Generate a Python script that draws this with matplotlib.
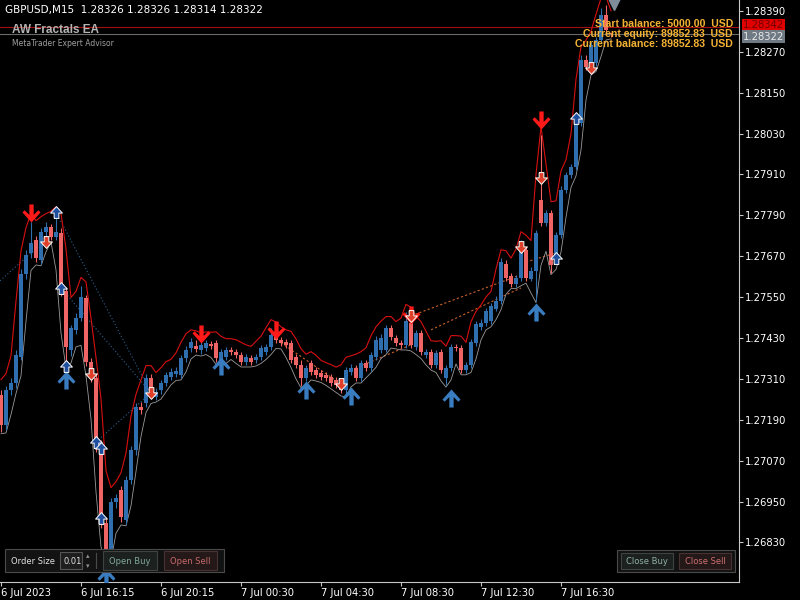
import numpy as np
import pandas as pd
import matplotlib
matplotlib.use('Agg')
import matplotlib.pyplot as plt
from matplotlib.path import Path
from matplotlib.patches import Rectangle

# GBPUSD M15 bars
opens = [1.27263, 1.27175, 1.27278, 1.27298, 1.27375, 1.27619, 1.27680, 1.27718, 1.27659, 1.27741,
         1.27756, 1.27727, 1.27738, 1.27569, 1.27395, 1.27454, 1.27490, 1.27546, 1.27360, 1.27313,
         1.27116, 1.26888, 1.26808, 1.26949, 1.26984, 1.26896, 1.27014, 1.27102, 1.27228, 1.27240,
         1.27313, 1.27257, 1.27278, 1.27298, 1.27316, 1.27325, 1.27322, 1.27372, 1.27401, 1.27407,
         1.27395, 1.27401, 1.27413, 1.27416, 1.27366, 1.27375, 1.27395, 1.27389, 1.27380, 1.27360,
         1.27372, 1.27366, 1.27375, 1.27389, 1.27404, 1.27433, 1.27424, 1.27419, 1.27416, 1.27375,
         1.27351, 1.27313, 1.27357, 1.27336, 1.27328, 1.27322, 1.27316, 1.27307, 1.27301, 1.27278,
         1.27331, 1.27342, 1.27313, 1.27357, 1.27342, 1.27375, 1.27395, 1.27395, 1.27460, 1.27430,
         1.27416, 1.27410, 1.27475, 1.27404, 1.27445, 1.27380, 1.27389, 1.27351, 1.27389, 1.27313,
         1.27342, 1.27404, 1.27401, 1.27336, 1.27351, 1.27416, 1.27463, 1.27475, 1.27481, 1.27516,
         1.27540, 1.27648, 1.27613, 1.27590, 1.27607, 1.27689, 1.27604, 1.27628, 1.27835, 1.27768,
         1.27797, 1.27674, 1.27733, 1.27865, 1.27909, 1.27932, 1.28061, 1.28246, 1.28217, 1.28237,
         1.28305, 1.28378, 1.28326]
highs = [1.27278, 1.27290, 1.27313, 1.27395, 1.27634, 1.27689, 1.27771, 1.27730, 1.27753, 1.27771,
         1.27765, 1.27791, 1.27753, 1.27581, 1.27469, 1.27502, 1.27584, 1.27557, 1.27372, 1.27325,
         1.27131, 1.26902, 1.26961, 1.26973, 1.26996, 1.27025, 1.27113, 1.27240, 1.27242, 1.27325,
         1.27325, 1.27284, 1.27307, 1.27331, 1.27342, 1.27345, 1.27380, 1.27407, 1.27430, 1.27424,
         1.27419, 1.27424, 1.27422, 1.27424, 1.27398, 1.27404, 1.27404, 1.27398, 1.27389, 1.27383,
         1.27380, 1.27383, 1.27410, 1.27413, 1.27460, 1.27445, 1.27433, 1.27427, 1.27424, 1.27383,
         1.27366, 1.27351, 1.27366, 1.27345, 1.27336, 1.27331, 1.27325, 1.27316, 1.27310, 1.27345,
         1.27354, 1.27351, 1.27366, 1.27366, 1.27389, 1.27436, 1.27442, 1.27469, 1.27469, 1.27439,
         1.27424, 1.27505, 1.27487, 1.27454, 1.27454, 1.27398, 1.27398, 1.27395, 1.27398, 1.27351,
         1.27413, 1.27413, 1.27410, 1.27360, 1.27427, 1.27481, 1.27487, 1.27519, 1.27534, 1.27552,
         1.27665, 1.27659, 1.27622, 1.27616, 1.27718, 1.27697, 1.27637, 1.27747, 1.28026, 1.27806,
         1.27806, 1.27741, 1.27876, 1.27917, 1.27941, 1.28070, 1.28261, 1.28261, 1.28299, 1.28313,
         1.28399, 1.28407, 1.28326]
lows = [1.27155, 1.27160, 1.27263, 1.27284, 1.27366, 1.27604, 1.27665, 1.27653, 1.27648, 1.27730,
        1.27718, 1.27718, 1.27554, 1.27348, 1.27378, 1.27442, 1.27481, 1.27348, 1.27301, 1.27096,
        1.26873, 1.26773, 1.26794, 1.26932, 1.26890, 1.26885, 1.27002, 1.27087, 1.27207, 1.27228,
        1.27260, 1.27248, 1.27266, 1.27290, 1.27307, 1.27316, 1.27313, 1.27360, 1.27389, 1.27389,
        1.27383, 1.27392, 1.27398, 1.27360, 1.27357, 1.27366, 1.27380, 1.27372, 1.27351, 1.27351,
        1.27351, 1.27357, 1.27366, 1.27380, 1.27395, 1.27416, 1.27407, 1.27401, 1.27357, 1.27342,
        1.27290, 1.27304, 1.27322, 1.27313, 1.27307, 1.27304, 1.27290, 1.27284, 1.27269, 1.27263,
        1.27322, 1.27304, 1.27304, 1.27334, 1.27334, 1.27366, 1.27386, 1.27389, 1.27424, 1.27407,
        1.27401, 1.27401, 1.27401, 1.27395, 1.27380, 1.27372, 1.27342, 1.27342, 1.27328, 1.27292,
        1.27334, 1.27392, 1.27328, 1.27328, 1.27342, 1.27407, 1.27454, 1.27466, 1.27472, 1.27508,
        1.27531, 1.27598, 1.27581, 1.27581, 1.27598, 1.27598, 1.27596, 1.27540, 1.27759, 1.27759,
        1.27622, 1.27653, 1.27724, 1.27856, 1.27900, 1.27923, 1.28052, 1.28217, 1.28208, 1.28228,
        1.28296, 1.28325, 1.28314]
closes = [1.27175, 1.27278, 1.27298, 1.27380, 1.27619, 1.27674, 1.27709, 1.27665, 1.27741, 1.27756,
          1.27727, 1.27741, 1.27569, 1.27404, 1.27460, 1.27490, 1.27549, 1.27360, 1.27316, 1.27116,
          1.26888, 1.26808, 1.26949, 1.26961, 1.26905, 1.27014, 1.27102, 1.27228, 1.27219, 1.27313,
          1.27272, 1.27272, 1.27298, 1.27322, 1.27331, 1.27334, 1.27372, 1.27395, 1.27419, 1.27398,
          1.27410, 1.27416, 1.27407, 1.27372, 1.27389, 1.27395, 1.27389, 1.27380, 1.27360, 1.27375,
          1.27360, 1.27375, 1.27401, 1.27404, 1.27439, 1.27424, 1.27416, 1.27410, 1.27366, 1.27351,
          1.27313, 1.27342, 1.27331, 1.27322, 1.27316, 1.27313, 1.27298, 1.27292, 1.27278, 1.27336,
          1.27342, 1.27313, 1.27357, 1.27342, 1.27380, 1.27424, 1.27430, 1.27460, 1.27433, 1.27416,
          1.27410, 1.27481, 1.27410, 1.27445, 1.27389, 1.27389, 1.27351, 1.27386, 1.27336, 1.27342,
          1.27404, 1.27401, 1.27336, 1.27351, 1.27419, 1.27472, 1.27475, 1.27510, 1.27525, 1.27540,
          1.27653, 1.27607, 1.27590, 1.27607, 1.27689, 1.27607, 1.27628, 1.27738, 1.27768, 1.27797,
          1.27643, 1.27733, 1.27865, 1.27909, 1.27932, 1.28061, 1.28246, 1.28225, 1.28290, 1.28305,
          1.28378, 1.28334, 1.28322]

time_tick_bars = [0, 16, 32, 48, 64, 80, 96, 112]
time_tick_labels = ['6 Jul 2023', '6 Jul 16:15', '6 Jul 20:15', '7 Jul 00:30',
                    '7 Jul 04:30', '7 Jul 08:30', '7 Jul 12:30', '7 Jul 16:30']
price_ticks = [1.28390, 1.28270, 1.28150, 1.28030, 1.27910, 1.27790, 1.27670,
               1.27550, 1.27430, 1.27310, 1.27190, 1.27070, 1.26950, 1.26830]

ask = 1.28342
bid = 1.28322

# fractal arrows
fractal_dn_bars = [6, 40, 55, 82, 108]
fractal_dn_prices = [1.27797, 1.27442, 1.27454, 1.27499, 1.28070]
fractal_up_bars = [13, 21, 44, 61, 70, 90, 107]
fractal_up_prices = [1.27307, 1.26729, 1.27348, 1.27278, 1.27260, 1.27254, 1.27505]

# trade arrows
sell_bars = [9, 18, 30, 68, 82, 104, 108, 118]
sell_prices = [1.27712, 1.27325, 1.27269, 1.27295, 1.27495, 1.27697, 1.27900, 1.28222]
buy_bars = [11, 12, 13, 19, 20, 20, 111, 115]
buy_prices = [1.27800, 1.27577, 1.27348, 1.27125, 1.27108, 1.26902, 1.27665, 1.28076]

# dotted trade links (bar0, price0, bar1, price1)
buy_links = [(-0.2, 1.27598, 7.8, 1.27703), (11, 1.27800, 30, 1.27269),
             (12, 1.27577, 30, 1.27269), (19, 1.27125, 30, 1.27269)]
sell_links = [(56, 1.27416, 68, 1.27295), (70, 1.27336, 82, 1.27410),
              (82, 1.27495, 104, 1.27616), (86, 1.27454, 104, 1.27577),
              (105, 1.27653, 111, 1.27680)]

bull = '#2f6fb0'
bear = '#ef6464'

df = pd.DataFrame({'o': opens, 'h': highs, 'l': lows, 'c': closes})
x = np.arange(len(df))

fig = plt.figure(figsize=(8, 6), dpi=100, facecolor='black')
ax = fig.add_axes([0, 18 / 600, 739 / 800, 582 / 600])
ax.set_facecolor('black')
ax.set_xlim(-0.2, 147.6)
ax.set_ylim(1.26714, 1.28422)

# ask / bid lines
ax.axhline(ask, color='#a01010', lw=0.8, zorder=1)
ax.axhline(bid, color='#6a6a6a', lw=0.8, zorder=1)

# dotted trade links
for b0, p0, b1, p1 in buy_links:
    ax.plot([b0, b1], [p0, p1], ls=(0, (1, 2)), color='#2e5f8f', lw=0.8, zorder=1)
for b0, p0, b1, p1 in sell_links:
    ax.plot([b0, b1], [p0, p1], ls=(0, (2, 2)), color='#c8602a', lw=0.8, zorder=1)

# envelope lines
upper = (df.h.rolling(3, center=True, min_periods=1).max() + df.h) / 2 + 0.00024
lower = (df.l.rolling(3, center=True, min_periods=1).min() + df.l) / 2 - 0.00006
ax.plot(x, upper, color='#d81010', lw=0.8, zorder=2)
ax.plot(x, lower, color='#9a9a9a', lw=0.6, zorder=2)

# candles
up = df.c >= df.o
col = np.where(up, bull, bear)
ax.vlines(x, df.l, df.h, colors=col, lw=0.8, zorder=3)
body = (df.c - df.o).abs().clip(lower=0.00004)
ax.bar(x, body, bottom=np.minimum(df.o, df.c), width=0.78, color=col, linewidth=0, zorder=3)

# arrow markers
big_dn = [(-0.12, 0.5), (0.12, 0.5), (0.12, -0.08), (0.38, 0.18), (0.5, 0.06), (0, -0.5),
          (-0.5, 0.06), (-0.38, 0.18), (-0.12, -0.08), (-0.12, 0.5)]
trade_dn = [(-0.2, 0.5), (0.2, 0.5), (0.2, 0.05), (0.5, 0.05), (0, -0.5), (-0.5, 0.05),
            (-0.2, 0.05), (-0.2, 0.5)]
big_dn_m = Path(big_dn)
big_up_m = Path([(a, -b) for a, b in big_dn])
trade_dn_m = Path(trade_dn)
trade_up_m = Path([(a, -b) for a, b in trade_dn])

ax.plot(fractal_dn_bars, fractal_dn_prices, ls='none', marker=big_dn_m, ms=13,
        mfc='#ff1a1a', mec='none', zorder=5)
ax.plot(fractal_up_bars, fractal_up_prices, ls='none', marker=big_up_m, ms=13,
        mfc='#3a7cc0', mec='none', zorder=5)
ax.plot(sell_bars, sell_prices, ls='none', marker=trade_dn_m, ms=8.5,
        mfc='#e0402a', mec='white', mew=0.7, zorder=6)
ax.plot(buy_bars, buy_prices, ls='none', marker=trade_up_m, ms=8.5,
        mfc='#1f4f9f', mec='white', mew=0.7, zorder=6)

# grey shift marker at the top
ax.plot([122.6], [1.28410], ls='none', marker='v', ms=9, color='#7f8c99', zorder=6)

# axes styling
for s in ['top', 'left']:
    ax.spines[s].set_visible(False)
ax.spines['right'].set_color('#c8c8c8')
ax.spines['bottom'].set_color('#c8c8c8')
ax.yaxis.tick_right()
ax.set_yticks(price_ticks)
ax.set_yticklabels([f'{p:.5f}' for p in price_ticks])
ax.tick_params(axis='y', colors='#c8c8c8', labelcolor='white', labelsize=7.2,
               length=3, pad=1.5, width=0.8)
ax.set_xticks(time_tick_bars)
ax.set_xticklabels(time_tick_labels, ha='left')
ax.tick_params(axis='x', colors='#c8c8c8', labelcolor='white', labelsize=7.2,
               length=3, pad=1.5, width=0.8)


def fx(px):
    return px / 800


def fy(py):
    return 1 - py / 600


# price labels on the scale (ask on top, bid just below)
fig.text(fx(743), fy(25), f'{ask:.5f}', va='center', ha='left', fontsize=7.2, color='#700000',
         bbox=dict(facecolor='#e00000', edgecolor='none', pad=0.8))
fig.text(fx(743), fy(36.5), f'{bid:.5f}', va='center', ha='left', fontsize=7.2, color='#e8e8e8',
         bbox=dict(facecolor='#6f7a85', edgecolor='none', pad=0.8))

# header texts
fig.text(fx(5), fy(10), 'GBPUSD,M15  1.28326 1.28326 1.28314 1.28322', color='white',
         fontsize=7.5, va='center', ha='left')
fig.text(fx(12), fy(30), 'AW Fractals EA', color='#b4b4b4', fontsize=8.5, fontweight='bold',
         family='Liberation Sans', va='center', ha='left')
fig.text(fx(12), fy(44), 'MetaTrader Expert Advisor', color='#a0a0a0', fontsize=5.5,
         va='center', ha='left')

gold = '#f4b234'
for py, txt in [(24, 'Start balance: 5000.00  USD'),
                (34, 'Current equity: 89852.83  USD'),
                (44, 'Current balance: 89852.83  USD')]:
    fig.text(fx(733), fy(py), txt, color=gold, fontsize=7.6, fontweight='bold',
             family='Liberation Sans', va='center', ha='right', zorder=10)


def box(x0, y0, x1, y1, face, edge):
    fig.add_artist(Rectangle((fx(x0), fy(y1)), fx(x1 - x0), (y1 - y0) / 600,
                             facecolor=face, edgecolor=edge, lw=0.8, zorder=10))


# trade panel (left)
box(5, 549, 224, 572, '#121212', '#4a4a4a')
fig.text(fx(11), fy(562), 'Order Size', color='#e0e0e0', fontsize=6, va='center', ha='left', zorder=11)
box(60, 552, 82, 569, '#1e1e1e', '#555555')
fig.text(fx(63), fy(561), '0.01', color='#e0e0e0', fontsize=6, va='center', ha='left', zorder=11)
fig.text(fx(88), fy(556), '▴', color='#909090', fontsize=5, va='center', ha='center', zorder=11)
fig.text(fx(88), fy(566), '▾', color='#909090', fontsize=5, va='center', ha='center', zorder=11)
fig.add_artist(plt.Line2D([fx(96), fx(96)], [fy(553), fy(568)], color='#4a4a4a', lw=0.8, zorder=11))
box(103, 551, 157, 570, '#1c2120', '#3e4442')
fig.text(fx(130), fy(561), 'Open Buy', color='#7fa89a', fontsize=6, va='center', ha='center', zorder=11)
box(164, 551, 217, 570, '#241818', '#483232')
fig.text(fx(190), fy(561), 'Open Sell', color='#c86a6a', fontsize=6, va='center', ha='center', zorder=11)

# trade panel (right)
box(617, 550, 735, 572, '#121212', '#4a4a4a')
box(621, 553, 673, 569, '#1c2120', '#3e4442')
fig.text(fx(647), fy(561), 'Close Buy', color='#8fb0a6', fontsize=6, va='center', ha='center', zorder=11)
box(679, 553, 731, 569, '#241818', '#483232')
fig.text(fx(705), fy(561), 'Close Sell', color='#d07070', fontsize=6, va='center', ha='center', zorder=11)

fig.savefig('out.png', dpi=100, facecolor='black')
